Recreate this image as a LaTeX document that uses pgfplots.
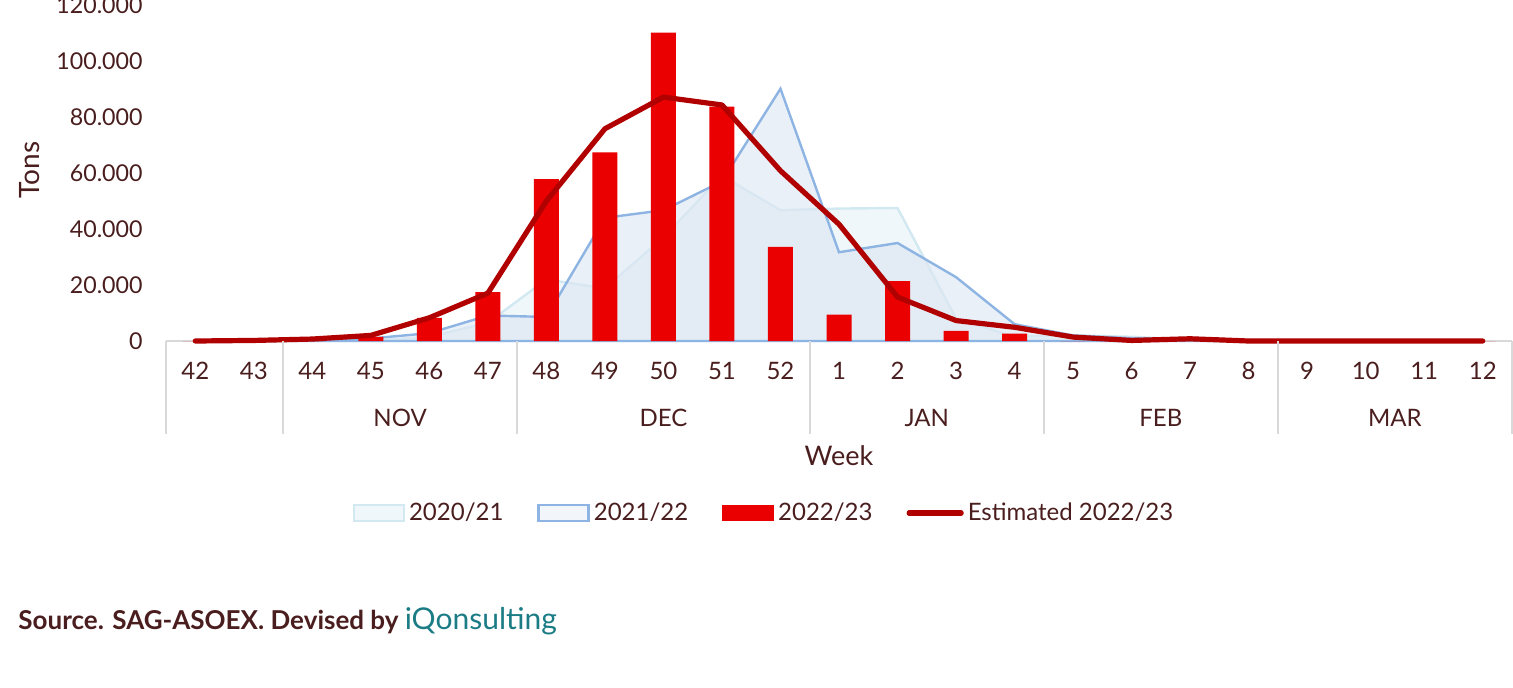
\documentclass[border=0pt]{standalone}
\usepackage{pgfplots}
\pgfplotsset{compat=1.18}
\usepackage{pgfplotstable}
\usepackage{fontspec}
\setmainfont{Lato}
\definecolor{txt}{HTML}{4A1E1E}
\definecolor{lightline}{HTML}{D3E9F1}
\definecolor{lightfill}{HTML}{EAF4F8}
\definecolor{blueline}{HTML}{8EB4E3}
\definecolor{bluefill}{HTML}{DCE6F2}
\definecolor{barred}{HTML}{EA0000}
\definecolor{estred}{HTML}{B00000}
\definecolor{sepgray}{HTML}{D9D9D9}
\definecolor{teal2}{HTML}{1B7C86}

\pgfplotstableread{
idx wk light blue bar est
0 42 0 0 0 0
1 43 0 0 0 200
2 44 0 0 0 700
3 45 0 900 1500 2000
4 46 1500 2800 8300 8300
5 47 6500 9100 17500 17100
6 48 22000 8600 57800 50000
7 49 18800 44000 67400 75800
8 50 37000 46700 110100 87100
9 51 59000 57000 83700 84300
10 52 46700 90100 33600 60800
11 1 47300 31700 9400 41700
12 2 47500 35000 21400 15700
13 3 8000 22800 3600 7300
14 4 1500 6000 2600 4900
15 5 2000 2000 0 1400
16 6 1500 1000 0 200
17 7 500 500 0 800
18 8 0 0 0 0
19 9 0 0 0 0
20 10 0 0 0 0
21 11 0 0 0 0
22 12 0 0 0 0
}\data

\begin{document}
\begin{tikzpicture}[font=\fontsize{12}{14}\selectfont, every node/.style={text=txt}]
\begin{axis}[
  at={(83pt,173pt)}, anchor=south west,
  scale only axis, width=673pt, height=168pt,
  xmin=-0.5, xmax=22.5, ymin=0, ymax=120000,
  axis lines*=left,
  x axis line style={draw=sepgray, line width=0.9pt},
  y axis line style={draw=none},
  tick style={draw=none},
  xtick={0,...,22},
  xticklabels={42,43,44,45,46,47,48,49,50,51,52,1,2,3,4,5,6,7,8,9,10,11,12},
  xticklabel style={anchor=center, yshift=-15pt, text=txt, font=\fontsize{12}{14}\selectfont},
  ytick={0,20000,40000,60000,80000,100000,120000},
  yticklabel style={anchor=east, inner sep=0pt, xshift=-11.5pt, text=txt, font=\fontsize{11.6}{14}\selectfont},
  scaled y ticks=false,
  /pgf/number format/.cd, fixed, precision=0, 1000 sep={.}, assume math mode=true,
  /pgfplots/.cd,
  clip=false,
  legend columns=4,
  legend style={at={(0.445,-0.512)}, anchor=center, draw=none, fill=none,
    font=\fontsize{12}{14}\selectfont, text=txt, inner sep=0pt,
    /tikz/every even column/.append style={column sep=15pt},
    cells={anchor=west}},
]
\addplot[draw=lightline, line width=1.2pt, fill=lightfill, fill opacity=0.75,
  legend image code/.code={\draw[draw=lightline, line width=1.2pt, fill=lightfill] (0pt,-4pt) rectangle (25pt,4pt);}]
  table[x=idx, y=light] {\data} \closedcycle;
\addlegendentry{2020/21}
\addplot[draw=blueline, line width=1.2pt, fill=bluefill, fill opacity=0.6,
  legend image code/.code={\draw[draw=blueline, line width=1.2pt, fill=bluefill!60] (0pt,-4pt) rectangle (25pt,4pt);}]
  table[x=idx, y=blue] {\data} \closedcycle;
\addlegendentry{2021/22}
\addplot[ybar, bar width=12.5pt, bar shift=0pt, fill=barred, draw=none,
  legend image code/.code={\fill[barred] (0pt,-4pt) rectangle (26pt,4pt);}]
  table[x=idx, y=bar] {\data};
\addlegendentry{2022/23}
\addplot[estred, line width=2.6pt, line join=round, line cap=round, mark=none,
  legend image code/.code={\draw[estred, line width=2.6pt, line cap=round] (0pt,0pt) -- (26pt,0pt);}]
  table[x=idx, y=est] {\data};
\addlegendentry{Estimated 2022/23}

% category group separators
\draw[sepgray, line width=0.9pt] (axis cs:-0.5,0) -- ++(0pt,-46.5pt);
\draw[sepgray, line width=0.9pt] (axis cs:1.5,0) -- ++(0pt,-46.5pt);
\draw[sepgray, line width=0.9pt] (axis cs:5.5,0) -- ++(0pt,-46.5pt);
\draw[sepgray, line width=0.9pt] (axis cs:10.5,0) -- ++(0pt,-46.5pt);
\draw[sepgray, line width=0.9pt] (axis cs:14.5,0) -- ++(0pt,-46.5pt);
\draw[sepgray, line width=0.9pt] (axis cs:18.5,0) -- ++(0pt,-46.5pt);
\draw[sepgray, line width=0.9pt] (axis cs:22.5,0) -- ++(0pt,-46.5pt);
\node at (axis cs:3.5,0) [yshift=-38.5pt] {NOV};
\node at (axis cs:8,0) [yshift=-38.5pt] {DEC};
\node at (axis cs:12.5,0) [yshift=-38.5pt] {JAN};
\node at (axis cs:16.5,0) [yshift=-38.5pt] {FEB};
\node at (axis cs:20.5,0) [yshift=-38.5pt] {MAR};
\node at (axis cs:11,0) [yshift=-57.5pt, font=\fontsize{13.5}{15}\selectfont] {Week};
\end{axis}
\node[rotate=90, font=\fontsize{14}{16}\selectfont] at (15pt,258.5pt) {Tons};
\node[anchor=west, inner sep=0pt] at (9pt,33pt) {\fontsize{13}{15}\selectfont\bfseries Source. SAG-ASOEX. Devised by \textcolor{teal2}{\fontsize{15}{17}\selectfont\mdseries iQonsulting}};
\pgfresetboundingbox
\path[use as bounding box] (0,0) rectangle (756.5pt,343.5pt);
\end{tikzpicture}
\end{document}
